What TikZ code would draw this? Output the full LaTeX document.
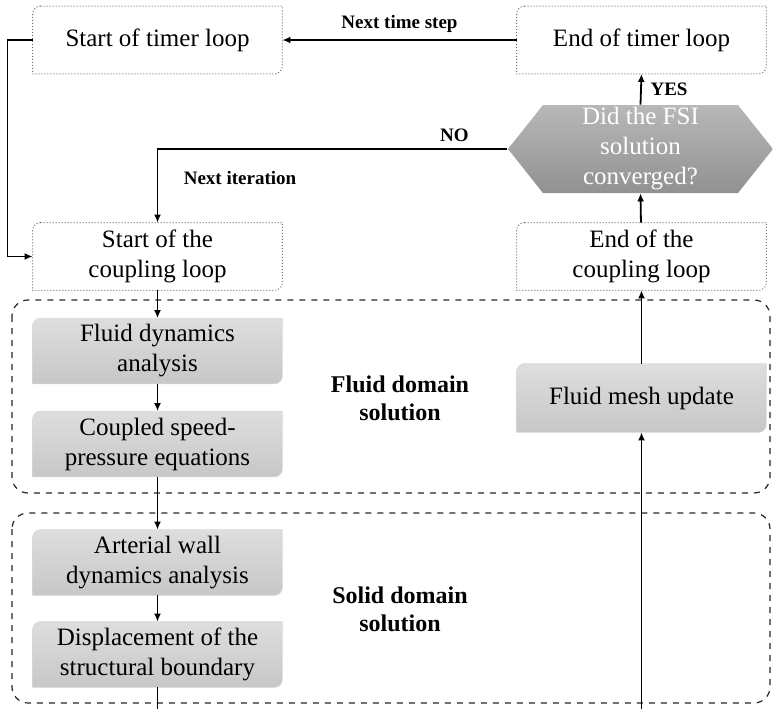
\documentclass[tikz,border=0pt]{standalone}
\usepackage{fontspec}
\setmainfont{Liberation Serif}
\usetikzlibrary{arrows.meta,shapes.symbols,backgrounds}

% outline with rounded top-left and bottom-right corners
\newcommand\tabbox[2]{%
  \path[#2] ([xshift=4pt]#1.north west) -- (#1.north east) -- ([yshift=4pt]#1.south east)
    arc[start angle=0,end angle=-90,radius=4pt] -- (#1.south west)
    -- ([yshift=-4pt]#1.north west) arc[start angle=180,end angle=90,radius=4pt] -- cycle;}

\begin{document}
\begin{tikzpicture}[x=0.5pt,y=0.5pt,
    loopbox/.style={minimum width=124.5pt,minimum height=33.5pt,inner sep=0pt,align=center,
      font=\fontsize{12.5}{15}\selectfont},
    taskbox/.style={loopbox,minimum height=32.5pt},
    loopline/.style={draw=black!55,densely dotted,line width=0.5pt,fill=white},
    taskfill/.style={top color=black!13,bottom color=black!22,draw=black!15,line width=0.3pt},
    decision/.style={signal,signal to=west and east,signal pointer angle=103,
      minimum width=132.5pt,minimum height=44pt,inner sep=0pt,align=center,text=white,
      top color=black!28,bottom color=black!43,font=\fontsize{12.5}{15}\selectfont},
    groupbox/.style={draw=black!85,dashed,line width=0.6pt,rounded corners=8pt},
    lbl/.style={font=\bfseries\fontsize{9.5}{11}\selectfont},
    domainlabel/.style={align=center,font=\bfseries\fontsize{12}{14}\selectfont},
    arrow/.style={-{Latex[length=4pt,width=3.5pt]},line width=0.9pt},
    link/.style={line width=0.9pt}]
  \useasboundingbox (0,0) rectangle (773,-709);

  % domain groups
  \draw[groupbox] (12,-300) rectangle (770,-493);
  \draw[groupbox] (12,-513) rectangle (770,-703);

  \node(stimer)[loopbox] at (157.5,-40){Start of timer loop};
  \node(etimer)[loopbox] at (641.5,-40){End of timer loop};
  \node(conv)[decision] at (640.5,-149){Did the FSI\\solution\\converged?};
  \node(scoup)[loopbox] at (157.5,-256.5){Start of the\\coupling loop};
  \node(ecoup)[loopbox] at (641.5,-256.5){End of the\\coupling loop};
  \node(fdyn)[taskbox] at (157.5,-351){Fluid dynamics\\analysis};
  \node(cpl)[taskbox] at (157.5,-444){Coupled speed-\\pressure equations};
  \node(mesh)[taskbox,minimum height=34pt] at (641.5,-398){Fluid mesh update};
  \node(wall)[taskbox] at (157.5,-562.5){Arterial wall\\dynamics analysis};
  \node(disp)[taskbox] at (157.5,-654.5){Displacement of the\\structural boundary};
  \node(fluid)[domainlabel] at (400,-398){Fluid domain\\solution};
  \node(solid)[domainlabel] at (400,-609){Solid domain\\solution};
  \coordinate(dispout) at (157.5,-709);
  \coordinate(meshin) at (641.5,-709);

  \begin{pgfonlayer}{background}
    \foreach \n in {stimer,etimer,scoup,ecoup}
      \tabbox{\n}{loopline};
    \foreach \n in {fdyn,cpl,mesh,wall,disp}
      \tabbox{\n}{taskfill};
  \end{pgfonlayer}

  \draw[arrow] (etimer) -- node[lbl,above]{Next time step} (stimer);
  \draw[arrow] (stimer.west) -- ++(-25,0) |- (scoup.west);
  \draw[arrow] (conv.north) -- node[lbl,right,xshift=1pt]{YES} (etimer.south);
  \draw[arrow] (conv.west) -- node[lbl,above]{NO} ++(-106,0) -| (scoup.north);
  \node(nextit)[lbl] at (240,-178){Next iteration};
  \draw[arrow] (ecoup) -- (conv.south);
  \draw[arrow] (scoup) -- (fdyn);
  \draw[arrow] (fdyn) -- (cpl);
  \draw[arrow] (cpl) -- (wall);
  \draw[arrow] (wall) -- (disp);
  \draw[link] (disp) -- (dispout);
  \draw[arrow] (meshin) -- (mesh);
  \draw[arrow] (mesh) -- (ecoup);
\end{tikzpicture}
\end{document}
